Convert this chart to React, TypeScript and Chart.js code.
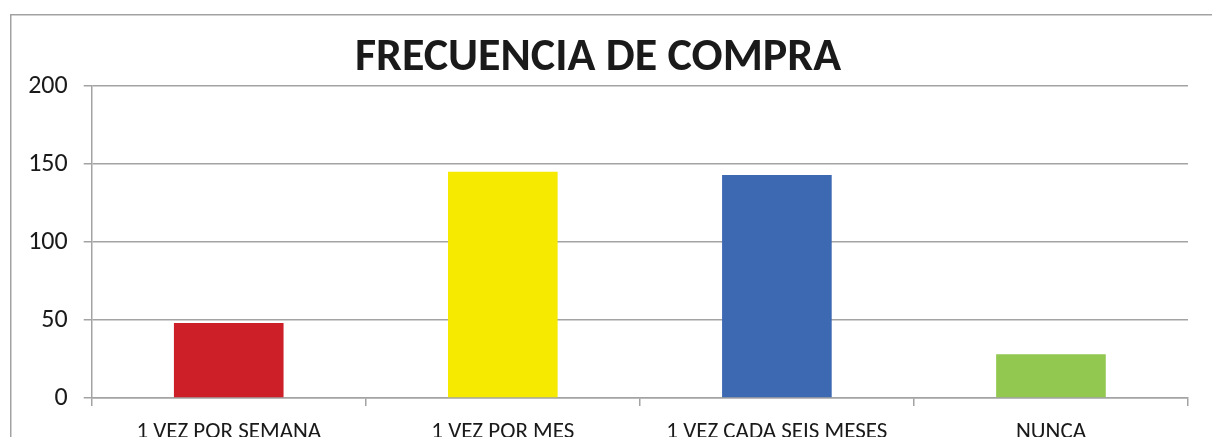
import React, { useEffect, useRef } from "react";
import { Chart, registerables } from "chart.js";

Chart.register(...registerables);

const TITLE = "FRECUENCIA DE COMPRA";
const categories = ["1 VEZ POR SEMANA", "1 VEZ POR MES", "1 VEZ CADA SEIS MESES", "NUNCA"];
const values = [48, 145, 143, 28];
const barColors = ["#CC1F27", "#F5EA00", "#3D68B2", "#92C850"];
const yMin = 0;
const yMax = 200;
const yStep = 50;

const FONT = "Carlito, Lato, 'Open Sans', sans-serif";
const GRID = "#a3a3a3";

const framePlugin = {
  id: "frame",
  beforeDraw(chart: any) {
    const ctx = chart.ctx;
    ctx.save();
    ctx.strokeStyle = GRID;
    ctx.lineWidth = 1.5;
    ctx.beginPath();
    ctx.moveTo(10.75, chart.height + 5);
    ctx.lineTo(10.75, 14.75);
    ctx.lineTo(chart.width + 5, 14.75);
    ctx.stroke();
    ctx.restore();
  },
};

export default function App() {
  const ref = useRef<HTMLCanvasElement>(null);

  useEffect(() => {
    if (!ref.current) return;
    const chart = new Chart(ref.current, {
      type: "bar",
      data: {
        labels: categories,
        datasets: [
          {
            data: values,
            backgroundColor: barColors,
            borderWidth: 0,
            barPercentage: 0.4,
            categoryPercentage: 1,
          },
        ],
      },
      options: {
        animation: false,
        responsive: false,
        maintainAspectRatio: false,
        layout: { padding: { left: 8, right: 24, top: 0, bottom: 0 } },
        plugins: {
          legend: { display: false },
          tooltip: { enabled: false },
          title: {
            display: true,
            text: TITLE,
            color: "#1a1a1a",
            font: { family: FONT, size: 46, weight: "bold", lineHeight: 1.15 },
            padding: { top: 32.4, bottom: 0.7 },
          },
        },
        scales: {
          x: {
            grid: {
              display: true,
              drawOnChartArea: false,
              drawTicks: true,
              tickLength: 8,
              color: GRID,
              lineWidth: 1.5,
              offset: true,
            },
            border: { display: true, color: GRID, width: 1.5 },
            ticks: {
              color: "#1a1a1a",
              font: { family: FONT, size: 23 },
              padding: 12,
              maxRotation: 0,
              autoSkip: false,
            },
            afterFit(scale: any) {
              scale.height = 39;
            },
          },
          y: {
            min: yMin,
            max: yMax,
            grid: {
              color: GRID,
              lineWidth: 1.5,
              tickLength: 8,
              drawTicks: true,
            },
            border: { display: true, color: GRID, width: 1.5 },
            ticks: {
              stepSize: yStep,
              color: "#1a1a1a",
              font: { family: FONT, size: 26 },
              padding: 16,
            },
            afterFit(scale: any) {
              scale.width = 83.7;
            },
          },
        },
      },
      plugins: [framePlugin],
    });
    return () => chart.destroy();
  }, []);

  return (
    <div style={{ position: "fixed", left: 0, top: 0, width: 1212, height: 437, background: "#fff" }}>
      <canvas ref={ref} width={1212} height={437} style={{ width: 1212, height: 437, display: "block" }} />
    </div>
  );
}
